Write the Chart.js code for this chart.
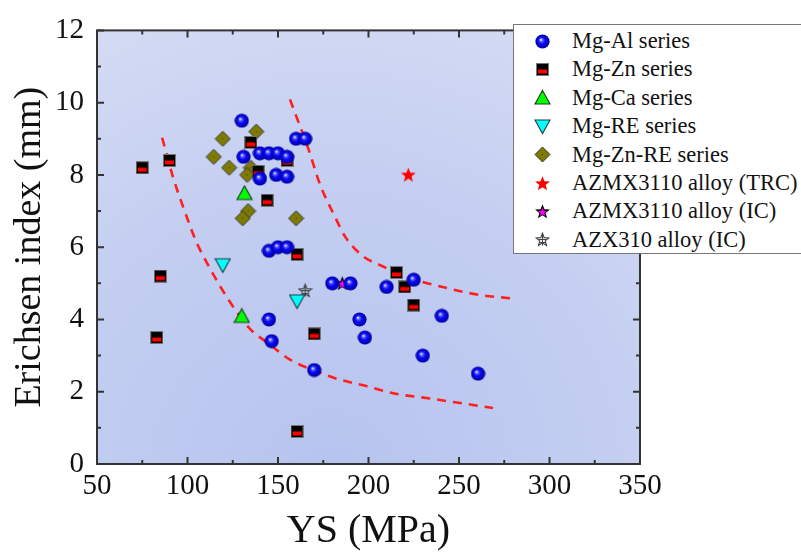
<!DOCTYPE html>
<html>
<head>
<meta charset="utf-8">
<script src="https://cdn.jsdelivr.net/npm/chart.js@4.4.0/dist/chart.umd.min.js"></script>
<style>
  body { margin: 0; background: #fff; overflow: hidden; }
  #wrap { position: relative; width: 801px; height: 559px; }
  #legend {
    position: absolute; left: 513px; top: 24px; width: 300px; height: 230px;
    background: #fff; border: 1px solid #777; box-sizing: border-box;
    font-family: "Liberation Serif", "Times New Roman", serif; font-size: 22.5px; color: #111;
  }
  .row { position: absolute; left: 0; height: 28px; width: 300px; }
  .row canvas { position: absolute; }
  .row span { position: absolute; left: 58px; top: 1px; line-height: 26px; white-space: nowrap; }
</style>
</head>
<body>
<div id="wrap">
  <canvas id="chart" width="801" height="559"></canvas>
  <div id="legend"></div>
</div>
<script>
// axis ticks
const X_TICKS = [50, 100, 150, 200, 250, 300, 350];
const Y_TICKS = [0, 2, 4, 6, 8, 10, 12];

// series: [YS, Erichsen index]
const MG_AL = [[130, 9.5], [131, 8.5], [140, 8.6], [145, 8.6], [150, 8.6], [155, 8.5],
  [140, 7.9], [149, 8.0], [155, 7.95], [160, 9.0], [165, 9.0],
  [145, 5.9], [150, 6.0], [155, 6.0], [145, 4.0], [146.5, 3.4], [170, 2.6],
  [180, 5.0], [190, 5.0], [210, 4.9], [225, 5.1], [195, 4.0], [198, 3.5],
  [240.5, 4.1], [230, 3.0], [260.5, 2.5]];
const MG_ZN = [[75, 8.2], [90, 8.4], [135, 8.9], [139, 8.1], [144, 7.3], [155, 8.4],
  [160.5, 5.8], [85, 5.2], [83, 3.5], [170, 3.6], [160.5, 0.9],
  [215.5, 5.3], [220, 4.9], [225, 4.4]];
const MG_CA = [[131.5, 7.5], [130, 4.1]];
const MG_RE = [[119.5, 5.5], [160.5, 4.5]];
const MG_ZN_RE = [[119.5, 9.0], [138, 9.2], [114.5, 8.5], [123, 8.2], [135, 8.2],
  [133, 8.0], [133.5, 7.0], [130.5, 6.8], [160, 6.8]];
const AZMX_TRC = [[222, 8.0]];
const AZMX_IC = [[185.5, 5.0]];
const AZX_IC = [[165, 4.8]];

// dashed guide curves
const LOWER_CURVE = [[86, 9.03], [92, 7.94], [97, 7.2], [105.2, 6.11], [110.8, 5.56],
  [119.1, 4.83], [127.3, 4.2], [134.5, 3.74], [145.6, 3.3], [156.6, 2.89],
  [171.5, 2.56], [183.1, 2.35], [199.2, 2.15], [213.5, 1.96], [235.6, 1.8], [268.8, 1.55]];
const UPPER_CURVE = [[156.6, 10.09], [160.5, 9.57], [166.6, 8.75], [173.2, 7.74],
  [181.5, 6.84], [187, 6.3], [197, 5.75], [207.5, 5.48], [217.4, 5.24],
  [230, 5.04], [245, 4.85], [260, 4.69], [279.3, 4.58]];

const SERIF = "'Liberation Serif', 'Times New Roman', serif";

// ---- marker images ----
function mk(size, draw) {
  const c = document.createElement('canvas');
  c.width = size; c.height = size;
  draw(c.getContext('2d'), size / 2, size);
  return c;
}
function starPath(g, cx, cy, R, r) {
  g.beginPath();
  for (let i = 0; i < 10; i++) {
    const a = -Math.PI / 2 + i * Math.PI / 5;
    const rr = i % 2 ? r : R;
    g.lineTo(cx + rr * Math.cos(a), cy + rr * Math.sin(a));
  }
  g.closePath();
}
const markers = {
  sphere: () => mk(15, (g, c) => {
    const gr = g.createRadialGradient(c - 1.6, c - 1.8, 0.2, c, c, 7.2);
    gr.addColorStop(0, '#ffffff');
    gr.addColorStop(0.18, '#6a6aff');
    gr.addColorStop(0.45, '#0a0af8');
    gr.addColorStop(1, '#00009a');
    g.fillStyle = gr;
    g.beginPath(); g.arc(c, c, 7.1, 0, Math.PI * 2); g.fill();
  }),
  square: () => mk(13, (g) => {
    g.fillStyle = '#777'; g.fillRect(0, 0, 13, 13);
    g.fillStyle = '#000'; g.fillRect(1, 1, 11, 11);
    g.fillStyle = '#ff0000'; g.fillRect(2, 6.5, 9, 4);
  }),
  triUp: () => mk(17, (g) => {
    g.beginPath(); g.moveTo(8.5, 1.5); g.lineTo(16, 15); g.lineTo(1, 15); g.closePath();
    g.fillStyle = '#00ff00'; g.fill();
    g.strokeStyle = '#1a3a1a'; g.lineWidth = 1.1; g.stroke();
  }),
  triDown: () => mk(17, (g) => {
    g.beginPath(); g.moveTo(1, 2); g.lineTo(16, 2); g.lineTo(8.5, 15.5); g.closePath();
    g.fillStyle = '#00ffff'; g.fill();
    g.strokeStyle = '#1a4040'; g.lineWidth = 1.1; g.stroke();
  }),
  diamond: () => mk(17, (g) => {
    g.beginPath(); g.moveTo(8.5, 1); g.lineTo(16, 8.5); g.lineTo(8.5, 16); g.lineTo(1, 8.5); g.closePath();
    g.fillStyle = '#7f7a00'; g.fill();
    g.strokeStyle = '#333'; g.lineWidth = 1; g.stroke();
    g.fillStyle = '#333'; g.fillRect(8, 8, 1, 1);
  }),
  redStar: () => mk(17, (g, c) => {
    starPath(g, c, c + 0.5, 7.8, 3.3);
    g.fillStyle = '#ff0000'; g.fill();
  }),
  magentaStar: () => mk(17, (g, c) => {
    starPath(g, c, c + 0.5, 7.8, 3.3);
    g.fillStyle = '#000'; g.fill();
    starPath(g, c, c + 0.8, 4.6, 2.0);
    g.fillStyle = '#ff00ff'; g.fill();
  }),
  hollowStar: () => mk(15, (g, c) => {
    starPath(g, c, c + 0.5, 6.8, 2.9);
    g.strokeStyle = '#444'; g.lineWidth = 1.1; g.stroke();
    g.beginPath();
    g.moveTo(c, c - 6); g.lineTo(c, c + 6);
    g.moveTo(c - 4, c); g.lineTo(c + 4, c);
    g.moveTo(c - 3, c + 3); g.lineTo(c + 3, c + 3);
    g.stroke();
  })
};

const SERIES = [
  { label: 'Mg-Al series', data: MG_AL, marker: 'sphere' },
  { label: 'Mg-Zn series', data: MG_ZN, marker: 'square' },
  { label: 'Mg-Ca series', data: MG_CA, marker: 'triUp' },
  { label: 'Mg-RE series', data: MG_RE, marker: 'triDown' },
  { label: 'Mg-Zn-RE series', data: MG_ZN_RE, marker: 'diamond' },
  { label: 'AZMX3110 alloy (TRC)', data: AZMX_TRC, marker: 'redStar' },
  { label: 'AZMX3110 alloy (IC)', data: AZMX_IC, marker: 'magentaStar' },
  { label: 'AZX310 alloy (IC)', data: AZX_IC, marker: 'hollowStar' }
];

const toXY = arr => arr.map(p => ({ x: p[0], y: p[1] }));

const datasets = SERIES.map(s => ({
  label: s.label,
  data: toXY(s.data),
  pointStyle: markers[s.marker](),
  pointRadius: 7,
  showLine: false,
  order: 1
}));
[LOWER_CURVE, UPPER_CURVE].forEach(c => datasets.push({
  label: '',
  data: toXY(c),
  showLine: true,
  pointRadius: 0,
  borderColor: '#ff1f1f',
  borderWidth: 2.6,
  borderDash: [9, 7],
  cubicInterpolationMode: 'monotone',
  order: 5
}));

// legend
const legendBox = document.getElementById('legend');
SERIES.forEach((s, i) => {
  const row = document.createElement('div');
  row.className = 'row';
  row.style.top = (2 + i * 28.4) + 'px';
  const m = markers[s.marker]();
  m.style.left = (28 - m.width / 2) + 'px';
  m.style.top = (14 - m.height / 2) + 'px';
  const t = document.createElement('span');
  t.textContent = s.label;
  row.appendChild(m); row.appendChild(t);
  legendBox.appendChild(row);
});

// background gradient + frame + inward ticks
const frame = {
  id: 'frame',
  beforeDatasetsDraw(chart) {
    const { ctx, chartArea: a } = chart;
    const gr = ctx.createRadialGradient(330, 480, 20, 330, 480, 560);
    gr.addColorStop(0, '#b7c4ef');
    gr.addColorStop(0.5, '#c3cef1');
    gr.addColorStop(1, '#d9def4');
    ctx.save();
    ctx.fillStyle = gr;
    ctx.fillRect(a.left, a.top, a.right - a.left, a.bottom - a.top);
    ctx.restore();
  },
  afterDraw(chart) {
    const { ctx, chartArea: a, scales } = chart;
    ctx.save();
    ctx.strokeStyle = '#333';
    ctx.lineWidth = 2;
    ctx.beginPath();
    for (let v = 50; v <= 350; v += 25) {
      const px = scales.x.getPixelForValue(v);
      const len = v % 50 === 0 ? 7 : 4;
      ctx.moveTo(px, a.bottom); ctx.lineTo(px, a.bottom - len);
      ctx.moveTo(px, a.top); ctx.lineTo(px, a.top + len);
    }
    for (let v = 0; v <= 12; v += 1) {
      const py = scales.y.getPixelForValue(v);
      const len = v % 2 === 0 ? 7 : 4;
      ctx.moveTo(a.left, py); ctx.lineTo(a.left + len, py);
      ctx.moveTo(a.right, py); ctx.lineTo(a.right - len, py);
    }
    ctx.stroke();
    ctx.strokeRect(a.left, a.top, a.right - a.left, a.bottom - a.top);
    ctx.restore();
  }
};

new Chart(document.getElementById('chart'), {
  type: 'scatter',
  data: { datasets: datasets },
  options: {
    responsive: false,
    animation: false,
    devicePixelRatio: 1,
    layout: { padding: { left: 0, right: 161, top: 24, bottom: 0 } },
    plugins: { legend: { display: false }, tooltip: { enabled: false } },
    scales: {
      x: {
        type: 'linear',
        min: X_TICKS[0], max: X_TICKS[X_TICKS.length - 1],
        afterBuildTicks: s => { s.ticks = X_TICKS.map(v => ({ value: v })); },
        afterFit: s => { s.height = 95; },
        grid: { display: false, drawTicks: false },
        border: { display: false },
        ticks: { color: '#111', padding: 5, font: { family: SERIF, size: 29 } },
        title: { display: true, text: 'YS (MPa)', color: '#111', padding: 4, font: { family: SERIF, size: 40 } }
      },
      y: {
        type: 'linear',
        min: Y_TICKS[0], max: Y_TICKS[Y_TICKS.length - 1],
        afterBuildTicks: s => { s.ticks = Y_TICKS.map(v => ({ value: v })); },
        afterFit: s => { s.width = 97; },
        grid: { display: false, drawTicks: false },
        border: { display: false },
        ticks: { color: '#111', padding: 13, font: { family: SERIF, size: 29 } },
        title: { display: true, text: 'Erichsen index (mm)', color: '#111', padding: 7, font: { family: SERIF, size: 38 } }
      }
    }
  },
  plugins: [frame]
});
</script>
</body>
</html>
